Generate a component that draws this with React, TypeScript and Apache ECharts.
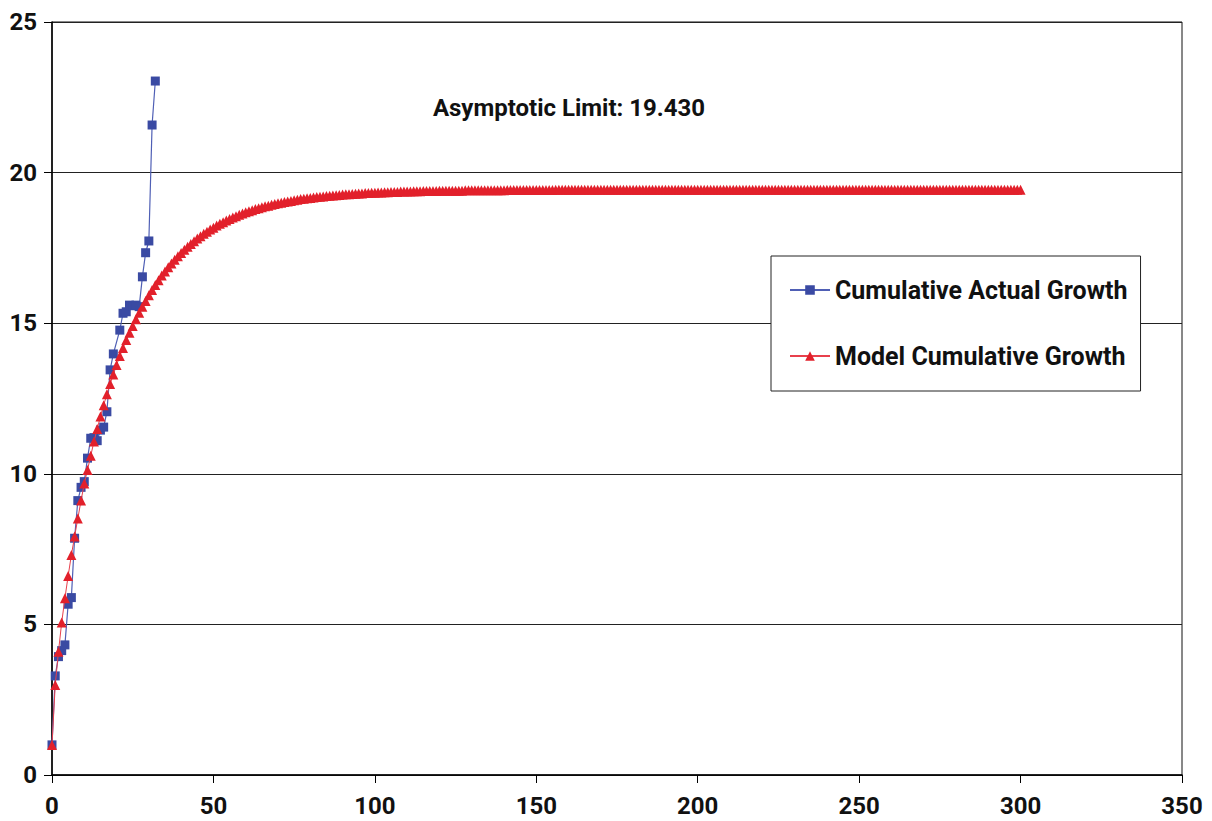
import React, { useEffect, useRef } from "react";
import * as echarts from "echarts";

const xTicks = [0, 50, 100, 150, 200, 250, 300, 350];
const yTicks = [0, 5, 10, 15, 20, 25];

const actualX = [0, 1, 2, 3, 4, 5, 6, 7, 8, 9, 10, 11, 12, 13, 14, 15, 16, 17, 18, 19, 21, 22, 23, 24, 25, 26, 27, 28, 29, 30, 31, 32];
const actualY = [1.0, 3.29, 3.93, 4.13, 4.32, 5.67, 5.89, 7.86, 9.11, 9.55, 9.74, 10.52, 11.18, 11.2, 11.1, 11.45, 11.55, 12.06, 13.45, 13.98, 14.77, 15.33, 15.38, 15.6, 15.58, 15.6, 15.55, 16.54, 17.34, 17.73, 21.58, 23.04];

// model values at x = 0, 1, 2, ... 300
const modelY = [
  1.00, 2.99, 4.09, 5.06, 5.87, 6.61, 7.30, 7.92, 8.52, 9.11,
  9.68, 10.13, 10.60, 11.07, 11.49, 11.90, 12.28, 12.64, 12.98, 13.30,
  13.61, 13.91, 14.18, 14.44, 14.68, 14.91, 15.13, 15.35, 15.55, 15.74,
  15.93, 16.10, 16.27, 16.43, 16.58, 16.72, 16.86, 16.98, 17.11, 17.22,
  17.33, 17.44, 17.54, 17.63, 17.72, 17.81, 17.89, 17.97, 18.04, 18.11,
  18.17, 18.24, 18.30, 18.35, 18.41, 18.46, 18.51, 18.55, 18.60, 18.64,
  18.68, 18.72, 18.75, 18.79, 18.82, 18.85, 18.88, 18.90, 18.93, 18.96,
  18.98, 19.00, 19.02, 19.04, 19.06, 19.08, 19.10, 19.12, 19.13, 19.15,
  19.16, 19.17, 19.19, 19.20, 19.21, 19.22, 19.23, 19.24, 19.25, 19.26,
  19.27, 19.28, 19.28, 19.29, 19.30, 19.31, 19.31, 19.32, 19.32, 19.33,
  19.33, 19.34, 19.34, 19.35, 19.35, 19.36, 19.36, 19.36, 19.37, 19.37,
  19.37, 19.37, 19.38, 19.38, 19.38, 19.39, 19.39, 19.39, 19.39, 19.39,
  19.40, 19.40, 19.40, 19.40, 19.40, 19.40, 19.40, 19.40, 19.41, 19.41,
  19.41, 19.41, 19.41, 19.41, 19.41, 19.41, 19.41, 19.41, 19.41, 19.41,
  19.41, 19.42, 19.42, 19.42, 19.42, 19.42, 19.42, 19.42, 19.42, 19.42,
  19.42, 19.42, 19.42, 19.42, 19.42, 19.42, 19.43, 19.43, 19.43, 19.43,
  19.43, 19.43, 19.43, 19.43, 19.43, 19.43, 19.43, 19.43, 19.43, 19.43,
  19.43, 19.43, 19.43, 19.43, 19.43, 19.43, 19.43, 19.43, 19.43, 19.43,
  19.43, 19.43, 19.43, 19.43, 19.43, 19.43, 19.43, 19.43, 19.43, 19.43,
  19.43, 19.43, 19.43, 19.43, 19.43, 19.43, 19.43, 19.43, 19.43, 19.43,
  19.43, 19.43, 19.43, 19.43, 19.43, 19.43, 19.43, 19.43, 19.43, 19.43,
  19.43, 19.43, 19.43, 19.43, 19.43, 19.43, 19.43, 19.43, 19.43, 19.43,
  19.43, 19.43, 19.43, 19.43, 19.43, 19.43, 19.43, 19.43, 19.43, 19.43,
  19.43, 19.43, 19.43, 19.43, 19.43, 19.43, 19.43, 19.43, 19.43, 19.43,
  19.43, 19.43, 19.43, 19.43, 19.43, 19.43, 19.43, 19.43, 19.43, 19.43,
  19.43, 19.43, 19.43, 19.43, 19.43, 19.43, 19.43, 19.43, 19.43, 19.43,
  19.43, 19.43, 19.43, 19.43, 19.43, 19.43, 19.43, 19.43, 19.43, 19.43,
  19.43, 19.43, 19.43, 19.43, 19.43, 19.43, 19.43, 19.43, 19.43, 19.43,
  19.43, 19.43, 19.43, 19.43, 19.43, 19.43, 19.43, 19.43, 19.43, 19.43,
  19.43, 19.43, 19.43, 19.43, 19.43, 19.43, 19.43, 19.43, 19.43, 19.43,
  19.43,
];

const seriesNames = ["Cumulative Actual Growth", "Model Cumulative Growth"];
const annotation = "Asymptotic Limit: 19.430";

const FONT = "'Roboto', 'DejaVu Sans Condensed', sans-serif";

export default function App() {
  const ref = useRef<HTMLDivElement>(null);
  useEffect(() => {
    document.body.style.margin = "0";
    const chart = echarts.init(ref.current!, undefined, { renderer: "svg" });
    const actual = actualX.map((x, i) => [x, actualY[i]]);
    const model = modelY.map((y, i) => [i, y]);
    chart.setOption({
      animation: false,
      backgroundColor: "#fff",
      grid: {
        left: 52, right: 30, top: 22, bottom: 46,
        show: true, borderColor: "#111", borderWidth: 1, backgroundColor: "transparent",
      },
      xAxis: {
        type: "value", min: xTicks[0], max: xTicks[xTicks.length - 1], interval: 50,
        axisLine: { show: true, lineStyle: { color: "#000", width: 1.5 } },
        axisTick: { show: true, inside: false, length: 8, lineStyle: { color: "#000" } },
        splitLine: { show: false },
        axisLabel: { color: "#111", fontFamily: FONT, fontWeight: "bold", fontSize: 24, margin: 19 },
      },
      yAxis: {
        type: "value", min: yTicks[0], max: yTicks[yTicks.length - 1], interval: 5,
        axisLine: { show: true, lineStyle: { color: "#000", width: 1.5 } },
        axisTick: { show: true, inside: false, length: 8, lineStyle: { color: "#000" } },
        splitLine: { show: true, lineStyle: { color: "#222", width: 1 } },
        axisLabel: { color: "#111", fontFamily: FONT, fontWeight: "bold", fontSize: 24, margin: 15 },
      },
      legend: {
        orient: "vertical",
        left: 771, top: 256,
        padding: [19, 13, 20, 18],
        itemGap: 36,
        itemWidth: 40, itemHeight: 12,
        backgroundColor: "#fff",
        borderColor: "#222", borderWidth: 1,
        textStyle: { color: "#111", fontFamily: FONT, fontWeight: "bold", fontSize: 25, lineHeight: 30 },
        data: seriesNames,
      },
      graphic: [
        {
          type: "text", x: 569, y: 108,
          style: {
            text: annotation, fill: "#111", font: `bold 24px ${FONT}`,
            textAlign: "center", textVerticalAlign: "middle",
          },
        },
      ],
      series: [
        {
          name: seriesNames[0], type: "line", data: actual,
          symbol: "rect", symbolSize: 9,
          lineStyle: { color: "#4f5fb5", width: 1.2 },
          itemStyle: { color: "#3a4aa3" },
          z: 3,
        },
        {
          name: seriesNames[1], type: "line", data: model,
          symbol: "triangle", symbolSize: 10,
          lineStyle: { color: "#e8404c", width: 1 },
          itemStyle: { color: "#e2202b" },
          z: 4,
        },
      ],
    });
    return () => chart.dispose();
  }, []);
  return <div ref={ref} style={{ width: 1212, height: 821 }} />;
}
